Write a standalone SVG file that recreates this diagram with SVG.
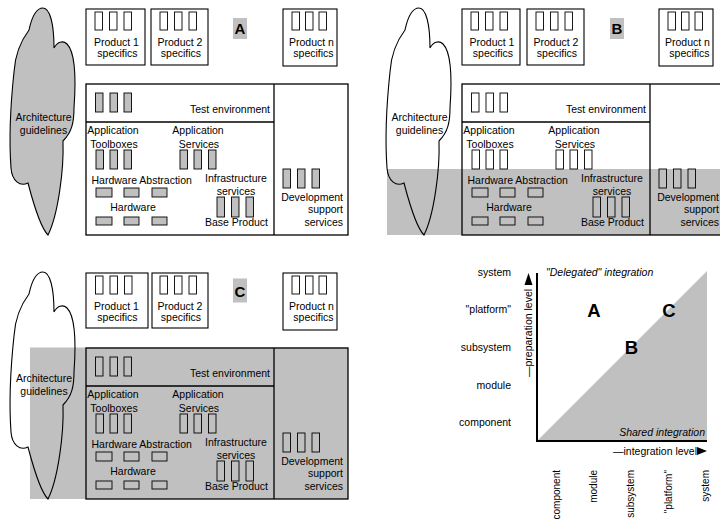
<svg xmlns="http://www.w3.org/2000/svg" xmlns:xlink="http://www.w3.org/1999/xlink" width="720" height="522" viewBox="0 0 720 522">
  <style>
    .t { font-family: "Liberation Sans", Arial, Helvetica, sans-serif; font-size: 10.5px; fill: #000; }
    .m { text-anchor: middle; }
    .e { text-anchor: end; }
    .i { font-style: italic; }
    .sm { font-size: 10px; }
    .lab { font-family: "Liberation Sans", Arial, Helvetica, sans-serif; font-weight: bold; font-size: 15px; fill: #000; text-anchor: middle; }
    .big { font-family: "Liberation Sans", Arial, Helvetica, sans-serif; font-weight: bold; font-size: 18.5px; fill: #000; text-anchor: middle; }
    .box { fill: #fff; stroke: #000; stroke-width: 1.1; }
    .frame { fill: none; stroke: #000; stroke-width: 1.3; }
    .ln { stroke: #000; stroke-width: 1.3; fill: none; }
    .w { fill: #fff; stroke: #000; stroke-width: 0.9; }
    .g { fill: #c0c0c0; stroke: #000; stroke-width: 0.9; }
    .n { fill: none; stroke: #000; stroke-width: 0.9; }
    .shade { fill: #c0c0c0; stroke: none; }
    .cloud { stroke: #000; stroke-width: 1.1; }
    .axis { stroke: #000; stroke-width: 2; fill: none; }
  </style>
  <defs>
    <!-- guidelines cloud outline: tall finger, smaller right lobe, narrow tail -->
    <path id="cloudShape" d="M 48,235 C 42,229 34,206 28,183 C 20,187 12,181 11,168 C 9,140 11,100 14,72 C 15,55 20,42 29,30 C 32,16 37,8 43,8 C 50,8 54,24 54,48 C 57,42 63,40 67,44 C 75,52 76,80 74,108 C 74,122 72,132 63,141 C 64,170 58,215 48,235 Z"/>
  </defs>

  <rect width="720" height="522" fill="#fff"/>

  <!-- Variant A: everything shared, framework filled in -->
  <g id="variant-a">
    <g id="a-guidelines">
      <use xlink:href="#cloudShape" class="cloud" fill="#c0c0c0"/>
      <text class="t m" x="43.5" y="120.5">Architecture</text>
      <text class="t m" x="43.5" y="134">guidelines</text>
    </g>
    <g id="a-product1">
      <rect class="box" x="86" y="9" width="59" height="56"/>
      <rect class="w" x="95" y="12" width="7.5" height="18"/>
      <rect class="w" x="109.5" y="12" width="7.5" height="18"/>
      <rect class="w" x="124" y="12" width="7.5" height="18"/>
      <text class="t m" x="116.5" y="45.5">Product 1</text>
      <text class="t m" x="117.5" y="57">specifics</text>
    </g>
    <g id="a-product2">
      <rect class="box" x="151" y="9" width="57" height="56"/>
      <rect class="w" x="160" y="12" width="7.5" height="18"/>
      <rect class="w" x="174.5" y="12" width="7.5" height="18"/>
      <rect class="w" x="189" y="12" width="7.5" height="18"/>
      <text class="t m" x="180" y="45.5">Product 2</text>
      <text class="t m" x="181" y="57">specifics</text>
    </g>
    <g id="a-productn">
      <rect class="box" x="283" y="9" width="54" height="57"/>
      <rect class="w" x="292" y="12" width="7.5" height="18"/>
      <rect class="w" x="305.5" y="12" width="7.5" height="18"/>
      <rect class="w" x="319" y="12" width="7.5" height="18"/>
      <text class="t m" x="311.5" y="45.5">Product n</text>
      <text class="t m" x="313.5" y="57">specifics</text>
    </g>
    <g id="a-label">
      <rect class="shade" x="233" y="18" width="14" height="21"/>
      <text class="lab" x="240" y="33.5">A</text>
    </g>
    <g id="a-framework">
      <rect x="86" y="84" width="262" height="151" fill="#fff"/>
      <rect class="frame" x="86" y="84" width="262" height="151"/>
      <line class="ln" x1="274" y1="84" x2="274" y2="235"/>
      <line class="ln" x1="86" y1="122" x2="274" y2="122"/>
      <rect class="g" x="95.5" y="93" width="7.5" height="19"/>
      <rect class="g" x="110" y="93" width="7.5" height="19"/>
      <rect class="g" x="124" y="93" width="7.5" height="19"/>
      <text class="t e" x="270" y="113">Test environment</text>
      <text class="t m" x="113" y="134">Application</text>
      <text class="t m" x="114" y="148">Toolboxes</text>
      <rect class="g" x="96" y="150" width="7.5" height="19"/>
      <rect class="g" x="110" y="150" width="7.5" height="19"/>
      <rect class="g" x="124" y="150" width="7.5" height="19"/>
      <text class="t m" x="198" y="134">Application</text>
      <text class="t m" x="199" y="148">Services</text>
      <rect class="g" x="180" y="150" width="7.5" height="19"/>
      <rect class="g" x="194" y="150" width="7.5" height="19"/>
      <rect class="g" x="208.5" y="150" width="7.5" height="19"/>
      <text class="t" x="91.5" y="184">Hardware Abstraction</text>
      <rect class="g" x="96" y="188" width="16" height="9"/>
      <rect class="g" x="124" y="188" width="15" height="9"/>
      <rect class="g" x="152" y="188" width="15" height="9"/>
      <text class="t m" x="133" y="211">Hardware</text>
      <rect class="g" x="96" y="217" width="16" height="8"/>
      <rect class="g" x="124" y="217" width="15" height="8"/>
      <rect class="g" x="152" y="217" width="15" height="8"/>
      <text class="t m" x="236" y="182">Infrastructure</text>
      <text class="t m" x="236" y="194.5">services</text>
      <rect class="g" x="217" y="197" width="7.5" height="20"/>
      <rect class="g" x="231.5" y="197" width="7.5" height="20"/>
      <rect class="g" x="246" y="197" width="7.5" height="20"/>
      <text class="t m" x="236.5" y="225.5">Base Product</text>
      <rect class="g" x="283" y="169" width="7.5" height="19"/>
      <rect class="g" x="297.5" y="169" width="7.5" height="19"/>
      <rect class="g" x="312" y="169" width="7.5" height="19"/>
      <text class="t e" x="343" y="200.5">Development</text>
      <text class="t e" x="343" y="213">support</text>
      <text class="t e" x="343" y="225.5">services</text>
    </g>
  </g>

  <!-- Variant B: only the lower layers shared -->
  <g id="variant-b" transform="translate(376,0)">
    <rect class="shade" x="11" y="169" width="340" height="66"/>
    <g id="b-guidelines">
      <use xlink:href="#cloudShape" class="cloud" fill="none"/>
      <text class="t m" x="43.5" y="120.5">Architecture</text>
      <text class="t m" x="43.5" y="134">guidelines</text>
    </g>
    <g id="b-product1">
      <rect class="box" x="86" y="9" width="58" height="56"/>
      <rect class="w" x="95" y="12" width="7.5" height="18"/>
      <rect class="w" x="109.5" y="12" width="7.5" height="18"/>
      <rect class="w" x="124" y="12" width="7.5" height="18"/>
      <text class="t m" x="116" y="45.5">Product 1</text>
      <text class="t m" x="117" y="57">specifics</text>
    </g>
    <g id="b-product2">
      <rect class="box" x="151" y="9" width="57" height="56"/>
      <rect class="w" x="160" y="12" width="7.5" height="18"/>
      <rect class="w" x="174.5" y="12" width="7.5" height="18"/>
      <rect class="w" x="189" y="12" width="7.5" height="18"/>
      <text class="t m" x="180" y="45.5">Product 2</text>
      <text class="t m" x="181" y="57">specifics</text>
    </g>
    <g id="b-productn">
      <rect class="box" x="283" y="9" width="54" height="57"/>
      <rect class="w" x="292" y="12" width="7.5" height="18"/>
      <rect class="w" x="305.5" y="12" width="7.5" height="18"/>
      <rect class="w" x="319" y="12" width="7.5" height="18"/>
      <text class="t m" x="311.5" y="45.5">Product n</text>
      <text class="t m" x="313.5" y="57">specifics</text>
    </g>
    <g id="b-label">
      <rect class="shade" x="234" y="18" width="14" height="21"/>
      <text class="lab" x="241" y="33.5">B</text>
    </g>
    <g id="b-framework">
      <rect class="frame" x="86" y="84" width="262" height="151"/>
      <line class="ln" x1="274" y1="84" x2="274" y2="235"/>
      <line class="ln" x1="86" y1="122" x2="274" y2="122"/>
      <rect class="w" x="95.5" y="93" width="7.5" height="19"/>
      <rect class="w" x="110" y="93" width="7.5" height="19"/>
      <rect class="w" x="124" y="93" width="7.5" height="19"/>
      <text class="t e" x="270" y="113">Test environment</text>
      <text class="t m" x="113" y="134">Application</text>
      <text class="t m" x="114" y="148">Toolboxes</text>
      <rect class="w" x="96" y="150" width="7.5" height="19"/>
      <rect class="w" x="110" y="150" width="7.5" height="19"/>
      <rect class="w" x="124" y="150" width="7.5" height="19"/>
      <text class="t m" x="198" y="134">Application</text>
      <text class="t m" x="199" y="148">Services</text>
      <rect class="w" x="180" y="150" width="7.5" height="19"/>
      <rect class="w" x="194" y="150" width="7.5" height="19"/>
      <rect class="w" x="208.5" y="150" width="7.5" height="19"/>
      <text class="t" x="91.5" y="184">Hardware Abstraction</text>
      <rect class="n" x="96" y="188" width="16" height="9"/>
      <rect class="n" x="124" y="188" width="15" height="9"/>
      <rect class="n" x="152" y="188" width="15" height="9"/>
      <text class="t m" x="133" y="211">Hardware</text>
      <rect class="n" x="96" y="217" width="16" height="8"/>
      <rect class="n" x="124" y="217" width="15" height="8"/>
      <rect class="n" x="152" y="217" width="15" height="8"/>
      <text class="t m" x="236" y="182">Infrastructure</text>
      <text class="t m" x="236" y="194.5">services</text>
      <rect class="n" x="217" y="197" width="7.5" height="20"/>
      <rect class="n" x="231.5" y="197" width="7.5" height="20"/>
      <rect class="n" x="246" y="197" width="7.5" height="20"/>
      <text class="t m" x="236.5" y="225.5">Base Product</text>
      <rect class="n" x="283" y="169" width="7.5" height="19"/>
      <rect class="n" x="297.5" y="169" width="7.5" height="19"/>
      <rect class="n" x="312" y="169" width="7.5" height="19"/>
      <text class="t e" x="343" y="200.5">Development</text>
      <text class="t e" x="343" y="213">support</text>
      <text class="t e" x="343" y="225.5">services</text>
    </g>
  </g>

  <!-- Variant C: whole framework shared -->
  <g id="variant-c" transform="translate(0,264)">
    <rect class="shade" x="30" y="83.5" width="318" height="151.5"/>
    <g id="c-guidelines">
      <use xlink:href="#cloudShape" class="cloud" fill="none"/>
      <text class="t m" x="44" y="117.5">Architecture</text>
      <text class="t m" x="44" y="131">guidelines</text>
    </g>
    <g id="c-product1">
      <rect class="box" x="86" y="9" width="62" height="55"/>
      <rect class="w" x="95.5" y="12" width="7.5" height="18"/>
      <rect class="w" x="110" y="12" width="7.5" height="18"/>
      <rect class="w" x="124.5" y="12" width="7.5" height="18"/>
      <text class="t m" x="116.5" y="45.5">Product 1</text>
      <text class="t m" x="117.5" y="57">specifics</text>
    </g>
    <g id="c-product2">
      <rect class="box" x="152" y="9" width="56" height="55"/>
      <rect class="w" x="160" y="12" width="7.5" height="18"/>
      <rect class="w" x="174.5" y="12" width="7.5" height="18"/>
      <rect class="w" x="189" y="12" width="7.5" height="18"/>
      <text class="t m" x="180" y="45.5">Product 2</text>
      <text class="t m" x="181" y="57">specifics</text>
    </g>
    <g id="c-productn">
      <rect class="box" x="283" y="9" width="54" height="57"/>
      <rect class="w" x="292" y="12" width="7.5" height="18"/>
      <rect class="w" x="305.5" y="12" width="7.5" height="18"/>
      <rect class="w" x="319" y="12" width="7.5" height="18"/>
      <text class="t m" x="311.5" y="45.5">Product n</text>
      <text class="t m" x="313.5" y="57">specifics</text>
    </g>
    <g id="c-label">
      <rect class="shade" x="233" y="14.5" width="14" height="24"/>
      <text class="lab" x="240" y="32.5">C</text>
    </g>
    <g id="c-framework">
      <rect class="frame" x="86" y="84" width="262" height="151"/>
      <line class="ln" x1="274" y1="84" x2="274" y2="235"/>
      <line class="ln" x1="86" y1="122" x2="274" y2="122"/>
      <rect class="n" x="95.5" y="93" width="7.5" height="19"/>
      <rect class="n" x="110" y="93" width="7.5" height="19"/>
      <rect class="n" x="124" y="93" width="7.5" height="19"/>
      <text class="t e" x="270" y="113">Test environment</text>
      <text class="t m" x="113" y="134">Application</text>
      <text class="t m" x="114" y="148">Toolboxes</text>
      <rect class="n" x="96" y="150" width="7.5" height="19"/>
      <rect class="n" x="110" y="150" width="7.5" height="19"/>
      <rect class="n" x="124" y="150" width="7.5" height="19"/>
      <text class="t m" x="198" y="134">Application</text>
      <text class="t m" x="199" y="148">Services</text>
      <rect class="n" x="180" y="150" width="7.5" height="19"/>
      <rect class="n" x="194" y="150" width="7.5" height="19"/>
      <rect class="n" x="208.5" y="150" width="7.5" height="19"/>
      <text class="t" x="91.5" y="184">Hardware Abstraction</text>
      <rect class="n" x="96" y="188" width="16" height="9"/>
      <rect class="n" x="124" y="188" width="15" height="9"/>
      <rect class="n" x="152" y="188" width="15" height="9"/>
      <text class="t m" x="133" y="211">Hardware</text>
      <rect class="n" x="96" y="217" width="16" height="8"/>
      <rect class="n" x="124" y="217" width="15" height="8"/>
      <rect class="n" x="152" y="217" width="15" height="8"/>
      <text class="t m" x="236" y="182">Infrastructure</text>
      <text class="t m" x="236" y="194.5">services</text>
      <rect class="n" x="217" y="197" width="7.5" height="20"/>
      <rect class="n" x="231.5" y="197" width="7.5" height="20"/>
      <rect class="n" x="246" y="197" width="7.5" height="20"/>
      <text class="t m" x="236.5" y="225.5">Base Product</text>
      <rect class="n" x="283" y="169" width="7.5" height="19"/>
      <rect class="n" x="297.5" y="169" width="7.5" height="19"/>
      <rect class="n" x="312" y="169" width="7.5" height="19"/>
      <text class="t e" x="343" y="200.5">Development</text>
      <text class="t e" x="343" y="213">support</text>
      <text class="t e" x="343" y="225.5">services</text>
    </g>
  </g>

  <!-- Integration level vs. preparation level chart -->
  <g id="chart">
    <polygon class="shade" points="537,441 707,441 707,271"/>
    <g id="chart-axes">
      <line class="axis" x1="537" y1="273" x2="537" y2="442"/>
      <line class="axis" x1="536" y1="441" x2="707" y2="441"/>
      <polygon points="528.5,273 524.5,285 532.5,285" fill="#000"/>
      <polygon points="707,451 697,447 697,455" fill="#000"/>
    </g>
    <text class="t" transform="translate(531.5,377) rotate(-90)">—preparation level</text>
    <text class="t" x="613" y="454.5">—integration level</text>
    <text class="t i" x="546" y="275.5">"Delegated" integration</text>
    <text class="t i e" x="705" y="436">Shared integration</text>
    <text class="t e" x="511" y="276">system</text>
    <text class="t e" x="511" y="313">"platform"</text>
    <text class="t e" x="511" y="351">subsystem</text>
    <text class="t e" x="511" y="388.5">module</text>
    <text class="t e" x="511" y="426">component</text>
    <text class="t sm e" transform="translate(560,470) rotate(-90)">component</text>
    <text class="t sm e" transform="translate(597,470) rotate(-90)">module</text>
    <text class="t sm e" transform="translate(634,470) rotate(-90)">subsystem</text>
    <text class="t sm e" transform="translate(672,470) rotate(-90)">"platform"</text>
    <text class="t sm e" transform="translate(709,470) rotate(-90)">system</text>
    <text class="big" x="594" y="317">A</text>
    <text class="big" x="631.5" y="353.5">B</text>
    <text class="big" x="669" y="317">C</text>
  </g>
</svg>
